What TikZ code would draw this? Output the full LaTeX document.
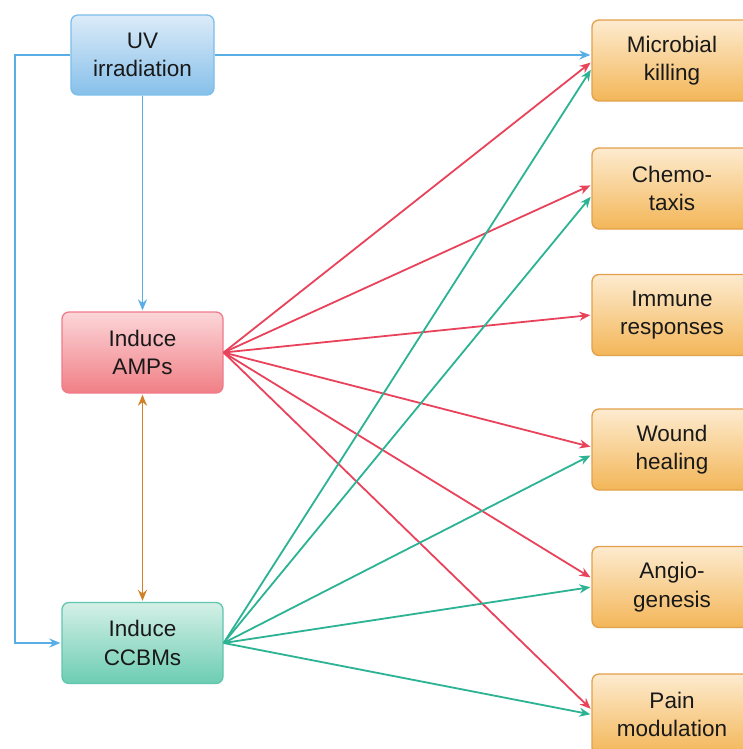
\documentclass[tikz,border=0pt]{standalone}
\usepackage{fontspec}
\setmainfont{Liberation Sans}
\usetikzlibrary{arrows.meta}
\definecolor{uvb}{HTML}{5AAEE6}
\definecolor{ampr}{HTML}{E9435C}
\definecolor{ccg}{HTML}{2BB393}
\definecolor{orng}{HTML}{D08128}
\definecolor{otop}{HTML}{FDEBCF}
\definecolor{obot}{HTML}{F3B658}
\definecolor{obrd}{HTML}{E3A04A}
\definecolor{utop}{HTML}{DCEBF8}
\definecolor{ubot}{HTML}{86C0EA}
\definecolor{rtop}{HTML}{FCD6D8}
\definecolor{rbot}{HTML}{F07F86}
\definecolor{gtop}{HTML}{D4F0E7}
\definecolor{gbot}{HTML}{6CCDB2}
\tikzset{
  box/.style={draw, line width=1.3pt, rounded corners=7pt, align=center,
    font=\fontsize{22.5}{28.5}\selectfont, text=black!90},
  uvbox/.style={box, draw=uvb!80, top color=utop, bottom color=ubot,
    minimum width=143pt, minimum height=80pt},
  ampbox/.style={box, draw=ampr!70, top color=rtop, bottom color=rbot,
    minimum width=161pt, minimum height=81pt},
  ccbox/.style={box, draw=ccg!75, top color=gtop, bottom color=gbot,
    minimum width=161pt, minimum height=81pt},
  outbox/.style={box, draw=obrd, top color=otop, bottom color=obot,
    minimum width=160pt, minimum height=81pt},
  arr/.style={line width=1.8pt, -{Stealth[length=11pt,width=9pt]}, shorten >=1pt},
  bluearr/.style={arr, draw=uvb},
  redarr/.style={arr, draw=ampr},
  greenarr/.style={arr, draw=ccg},
}
\begin{document}
\begin{tikzpicture}[x=1pt,y=-1pt]
\clip (0,0) rectangle (743,749);
\fill[white] (0,0) rectangle (743,749);
\node[uvbox] (uv) at (142.5,55) {UV\\irradiation};
\node[ampbox] (amp) at (142.5,352.5) {Induce\\AMPs};
\node[ccbox] (cc) at (142.5,643) {Induce\\CCBMs};
\node[outbox] (mk) at (672,60.5) {Microbial\\killing};
\node[outbox] (ch) at (672,188.5) {Chemo-\\taxis};
\node[outbox] (im) at (672,315) {Immune\\responses};
\node[outbox] (wh) at (672,449.5) {Wound\\healing};
\node[outbox] (an) at (672,587) {Angio-\\genesis};
\node[outbox] (pm) at (672,714.5) {Pain\\modulation};
\coordinate (bend) at (15,55);
% blue
\draw[bluearr] (uv.east) -- (uv.east -| mk.west);
\draw[bluearr] (uv.south) -- (uv.south |- amp.north);
\draw[bluearr] (uv.west) -- (bend) |- (cc.west);
% orange
\draw[line width=1.8pt, draw=orng, {Stealth[length=11pt,width=9pt]}-{Stealth[length=11pt,width=9pt]}, shorten >=1pt, shorten <=1pt] (amp.south) -- (cc.north);
% red
\draw[redarr] (amp.east) -- ([yshift=-1.5pt]mk.west);
\draw[redarr] (amp.east) -- ([yshift=3.5pt]ch.west);
\draw[redarr] (amp.east) -- (im.west);
\draw[redarr] (amp.east) -- ([yshift=2.5pt]wh.west);
\draw[redarr] (amp.east) -- ([yshift=9pt]an.west);
\draw[redarr] (amp.east) -- ([yshift=5pt]pm.west);
% green
\draw[greenarr] (cc.east) -- ([yshift=-8.5pt]mk.west);
\draw[greenarr] (cc.east) -- ([yshift=-7.5pt]ch.west);
\draw[greenarr] (cc.east) -- ([yshift=-5.5pt]wh.west);
\draw[greenarr] (cc.east) -- (an.west);
\draw[greenarr] (cc.east) -- (pm.west);
\end{tikzpicture}
\end{document}
